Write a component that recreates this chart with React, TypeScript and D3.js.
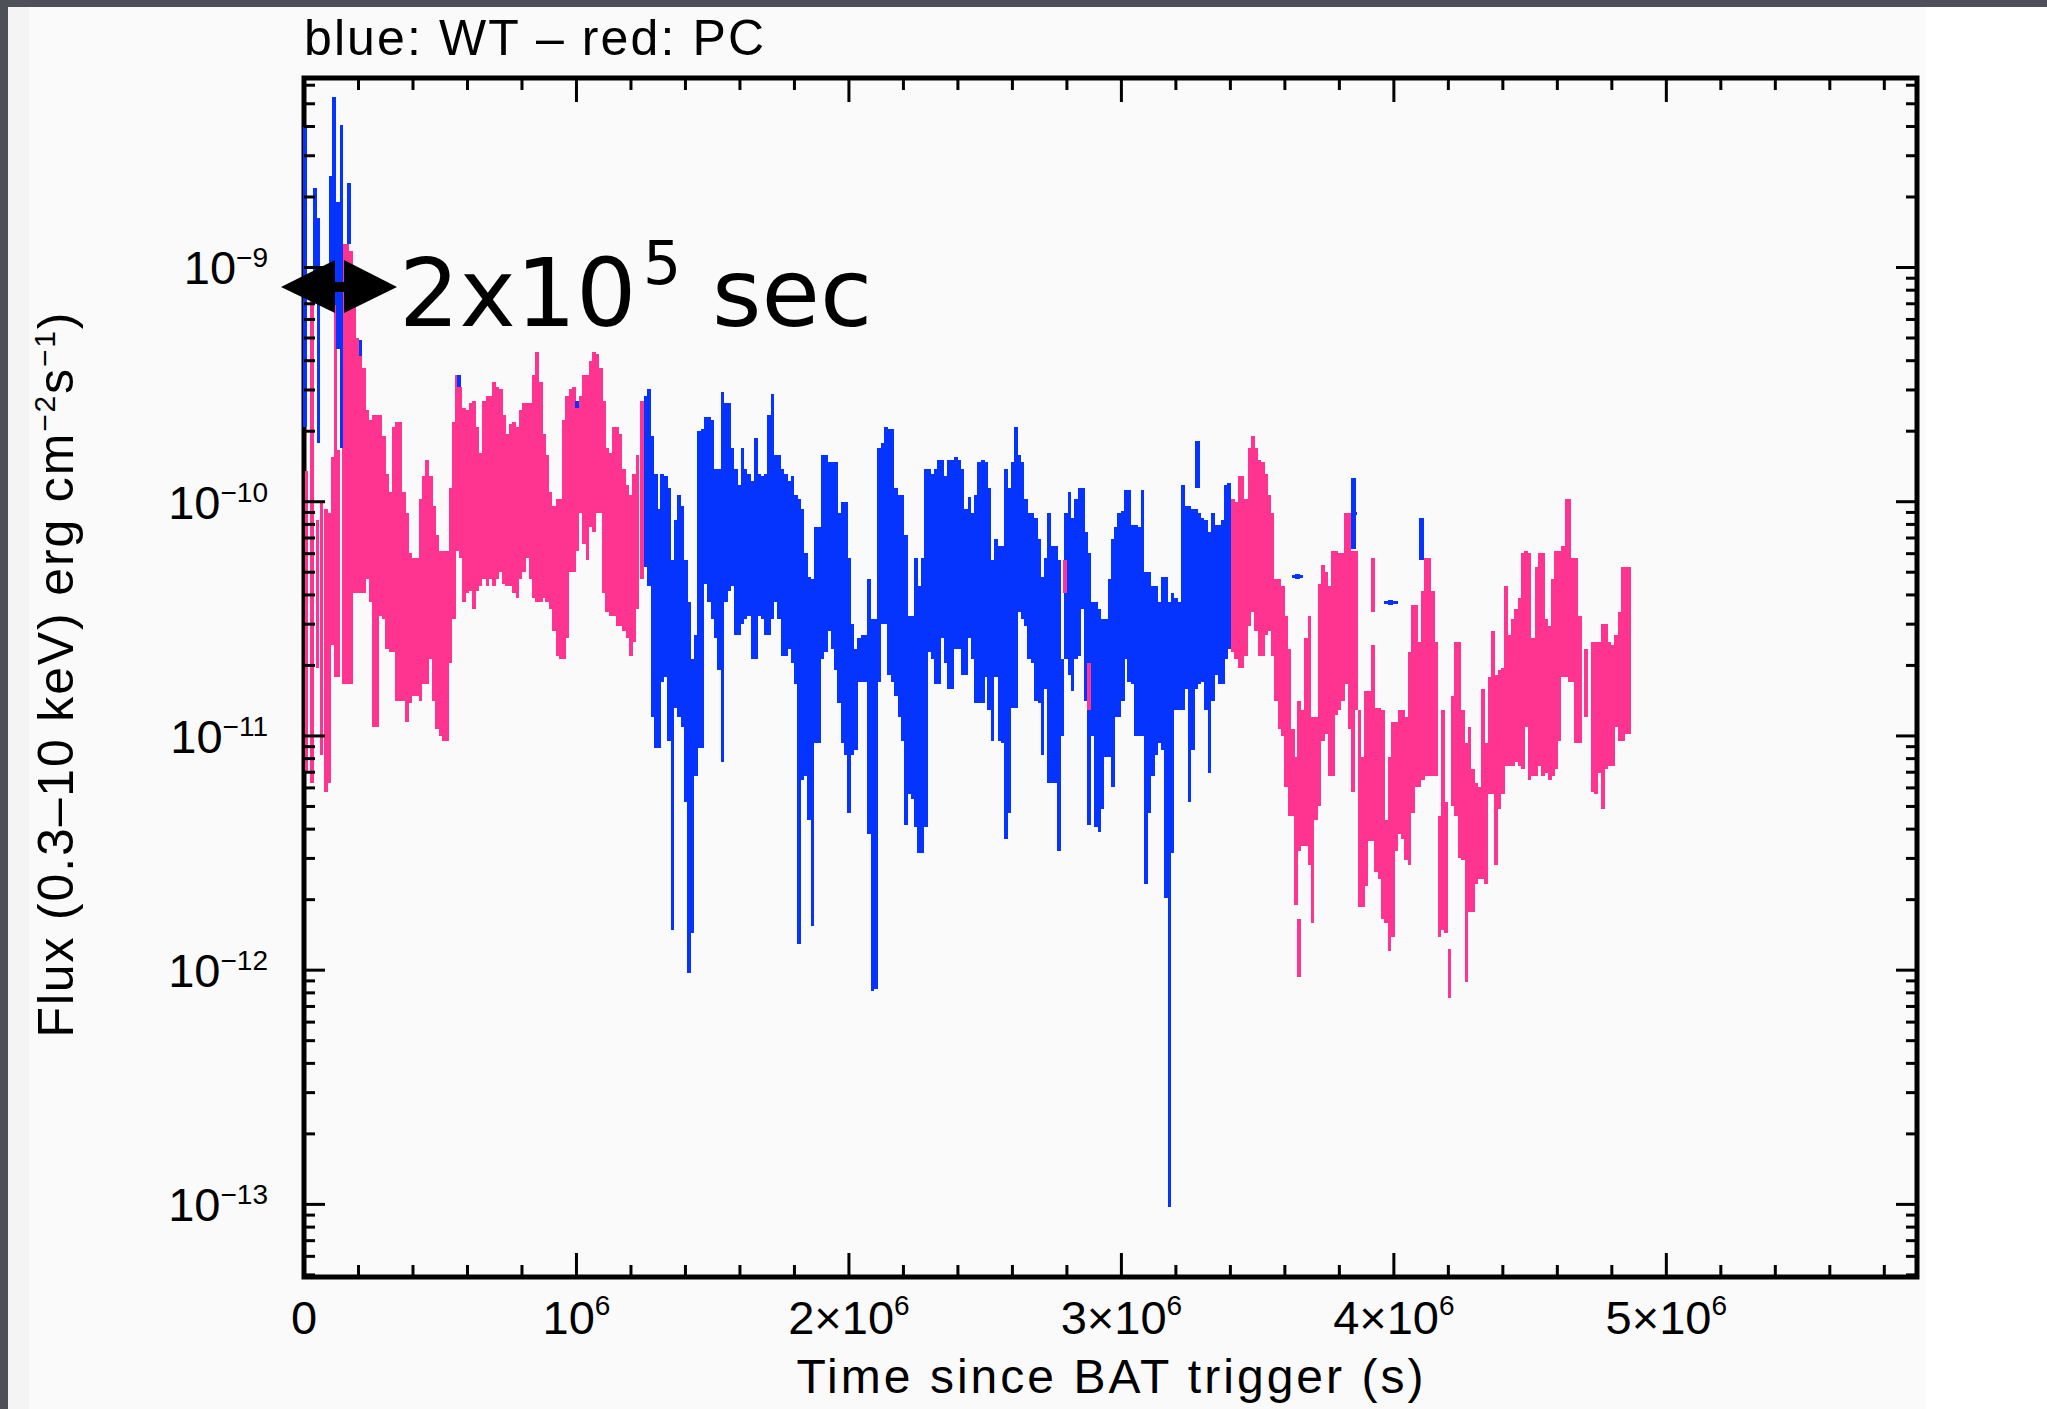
import * as d3 from "d3";

const W = 2047;
const H = 1409;

// time in ks since trigger, flux as log10(erg cm^-2 s^-1): [t, logLo, logHi]
const wtEarly: [number, number, number][] = [
  [4, -9.68, -8.4], [40, -9.14, -8.66], [53, -9.75, -8.79], [97, -9.16, -8.61],
  [110, -9.16, -8.27], [125, -9.35, -8.72], [138, -9.77, -8.39], [165, -8.9, -8.64],
  [207, -9.38, -9.31], [570, -9.51, -9.46], [1003, -9.6, -9.57],
];

const pcEarly: [number, number, number][] = [
  [9, -11.15, -9.87], [30, -11.2, -9.11], [49, -10.71, -10.08], [64, -11.08, -10.0],
  [80, -11.24, -10.03], [92, -11.2, -10.05], [105, -10.61, -9.81], [116, -10.75, -9.08],
  [126, -10.75, -9.78], [148, -10.78, -8.9], [160, -10.78, -8.9], [172, -10.78, -8.93],
  [184, -10.39, -9.15], [195, -10.39, -9.3], [207, -10.39, -9.38], [220, -10.39, -9.43],
  [232, -10.33, -9.61], [244, -10.43, -9.65], [256, -10.96, -9.63], [269, -10.96, -9.63],
  [281, -10.49, -9.63], [293, -10.5, -9.72], [305, -10.63, -9.88], [318, -10.64, -9.96],
  [330, -10.64, -9.68], [342, -10.85, -9.66], [354, -10.85, -9.66], [367, -10.85, -9.96],
  [379, -10.94, -10.05], [391, -10.86, -10.22], [403, -10.83, -10.24], [416, -10.83, -10.24],
  [428, -10.85, -9.99], [440, -10.78, -9.89], [452, -10.78, -9.82], [465, -10.67, -9.89],
  [477, -10.85, -10.02], [489, -10.97, -10.14], [501, -11.0, -10.21], [514, -11.02, -10.21],
  [526, -11.02, -10.21], [538, -10.69, -9.94], [550, -10.5, -9.66], [562, -10.21, -9.46],
  [575, -10.24, -9.51], [587, -10.43, -9.6], [599, -10.39, -9.61], [611, -10.38, -9.58],
  [624, -10.46, -9.57], [636, -10.38, -9.68], [648, -10.36, -9.79], [660, -10.33, -9.57],
  [673, -10.36, -9.55], [685, -10.33, -9.55], [697, -10.36, -9.49], [709, -10.33, -9.51],
  [722, -10.3, -9.52], [734, -10.35, -9.63], [746, -10.36, -9.71], [758, -10.36, -9.67],
  [771, -10.39, -9.66], [783, -10.41, -9.68], [795, -10.33, -9.61], [807, -10.3, -9.58],
  [820, -10.24, -9.58], [832, -10.33, -9.58], [844, -10.41, -9.46], [856, -10.43, -9.36],
  [869, -10.43, -9.49], [881, -10.41, -9.71], [893, -10.43, -9.8], [905, -10.46, -9.96],
  [918, -10.55, -10.02], [930, -10.66, -9.99], [942, -10.67, -9.99], [954, -10.67, -9.65],
  [966, -10.58, -9.55], [979, -10.3, -9.52], [991, -10.3, -9.51], [1003, -10.21, -9.6],
  [1015, -10.05, -9.55], [1028, -10.18, -9.46], [1040, -10.25, -9.46], [1052, -10.11, -9.4],
  [1064, -10.13, -9.36], [1077, -10.05, -9.37], [1089, -10.05, -9.43], [1101, -10.39, -9.57],
  [1113, -10.47, -9.77], [1126, -10.49, -9.79], [1138, -10.49, -9.68], [1150, -10.53, -9.68],
  [1162, -10.53, -9.71], [1175, -10.55, -9.86], [1187, -10.58, -9.93], [1199, -10.66, -9.97],
  [1211, -10.6, -9.88], [1224, -10.46, -9.8], [1241, -10.33, -9.57],
];

const wtMid: [number, number, number][] = [
  [1254, -10.28, -9.55], [1266, -10.36, -9.52], [1279, -10.92, -9.72], [1291, -11.05, -9.88],
  [1303, -11.05, -10.03], [1315, -10.77, -9.88], [1328, -10.75, -9.89], [1340, -11.02, -9.94],
  [1352, -11.83, -10.25], [1364, -10.88, -10.08], [1377, -10.92, -9.97], [1389, -10.96, -10.02],
  [1401, -11.28, -10.25], [1413, -12.01, -10.43], [1426, -11.84, -10.67], [1438, -11.17, -10.57],
  [1450, -11.05, -9.7], [1462, -11.05, -9.69], [1475, -10.35, -9.64], [1487, -10.43, -9.64],
  [1499, -10.5, -9.65], [1511, -10.58, -9.86], [1523, -10.72, -9.86], [1536, -11.11, -9.53],
  [1548, -10.43, -9.58], [1560, -10.38, -9.58], [1572, -10.36, -9.77], [1585, -10.57, -9.86],
  [1597, -10.57, -9.93], [1609, -10.52, -9.77], [1621, -10.5, -9.86], [1634, -10.49, -9.88],
  [1646, -10.67, -9.91], [1658, -10.67, -9.73], [1670, -10.49, -9.88], [1683, -10.5, -9.89],
  [1695, -10.57, -9.88], [1707, -10.57, -9.63], [1719, -10.5, -9.54], [1732, -10.43, -9.8],
  [1744, -10.5, -9.8], [1756, -10.66, -9.86], [1768, -10.66, -9.88], [1781, -10.63, -9.91],
  [1793, -10.69, -9.89], [1805, -10.78, -9.97], [1817, -11.89, -9.99], [1830, -11.19, -10.03],
  [1842, -11.17, -10.22], [1854, -11.36, -10.32], [1866, -11.81, -10.33], [1878, -11.03, -10.11],
  [1891, -11.03, -10.11], [1903, -10.67, -9.8], [1915, -10.64, -9.8], [1927, -10.55, -9.83],
  [1940, -10.63, -9.83], [1952, -10.72, -9.83], [1964, -10.86, -10.05], [1976, -11.03, -10.0],
  [1989, -11.08, -10.0], [2001, -11.33, -10.24], [2013, -11.08, -10.52], [2025, -11.06, -10.63],
  [2038, -10.77, -10.58], [2050, -10.77, -10.57], [2062, -10.77, -10.57], [2074, -11.42, -10.33],
  [2087, -12.09, -10.5], [2099, -12.08, -10.5], [2111, -10.77, -9.77], [2123, -10.52, -9.75],
  [2136, -10.52, -9.68], [2148, -10.74, -9.69], [2160, -10.77, -9.69], [2172, -10.83, -9.94],
  [2185, -10.92, -9.97], [2197, -11.02, -9.97], [2209, -11.38, -10.14], [2221, -11.25, -10.49],
  [2233, -11.27, -10.49], [2246, -11.39, -10.24], [2258, -11.5, -10.36], [2270, -11.5, -10.24],
  [2282, -11.39, -9.86], [2295, -10.64, -9.86], [2307, -10.67, -9.88], [2319, -10.78, -9.86],
  [2331, -10.78, -9.82], [2344, -10.58, -9.82], [2356, -10.69, -9.89], [2368, -10.8, -9.82],
  [2380, -10.8, -9.82], [2393, -10.63, -9.81], [2405, -10.63, -9.82], [2417, -10.74, -9.86],
  [2429, -10.74, -10.03], [2442, -10.58, -9.98], [2454, -10.67, -10.05], [2466, -10.86, -9.97],
  [2478, -10.86, -9.83], [2491, -10.86, -9.82], [2503, -10.75, -9.83], [2515, -10.89, -9.94],
  [2527, -11.02, -10.25], [2540, -10.75, -10.16], [2552, -11.02, -10.19], [2564, -11.03, -10.19],
  [2576, -11.44, -9.86], [2588, -11.33, -9.94], [2601, -10.88, -9.83], [2613, -10.88, -9.68],
  [2625, -10.47, -9.8], [2637, -10.5, -9.83], [2650, -10.53, -9.99], [2662, -10.67, -10.05],
  [2674, -10.69, -10.05], [2686, -10.85, -10.07], [2699, -10.86, -10.16], [2711, -11.08, -10.32],
  [2723, -10.8, -10.24], [2735, -11.2, -10.05], [2748, -11.2, -10.19], [2760, -11.2, -10.19],
  [2772, -11.49, -10.25], [2784, -11.0, -10.67], [2797, -10.67, -10.05], [2809, -10.74, -9.96],
  [2821, -10.81, -10.07], [2833, -10.67, -9.99], [2846, -10.66, -9.94], [2858, -10.46, -9.94],
  [2870, -10.85, -10.13], [2882, -11.38, -10.22], [2894, -11.0, -10.43], [2907, -11.39, -10.43],
  [2919, -11.41, -10.46], [2931, -11.31, -10.5], [2943, -11.09, -10.5], [2956, -11.09, -10.33],
  [2968, -11.22, -10.16], [2980, -10.92, -10.11], [2992, -10.92, -10.05], [3005, -10.85, -10.04],
  [3017, -10.67, -9.95], [3029, -10.77, -9.95], [3041, -10.78, -10.1], [3054, -11.0, -10.1],
  [3066, -11.0, -10.11], [3078, -11.0, -9.95], [3090, -11.63, -10.3], [3103, -11.33, -10.3],
  [3115, -11.17, -10.36], [3127, -11.08, -10.36], [3139, -11.03, -10.43], [3152, -11.06, -10.32],
  [3164, -11.69, -10.32], [3176, -13.01, -10.43], [3188, -11.5, -10.39], [3201, -10.89, -10.41],
  [3213, -10.89, -10.43], [3225, -10.89, -9.93], [3237, -10.8, -10.02], [3250, -11.28, -10.02],
  [3262, -11.06, -10.03], [3274, -10.8, -10.03], [3286, -10.78, -10.05], [3298, -10.77, -10.07],
  [3311, -10.89, -10.08], [3323, -11.16, -10.13], [3335, -10.85, -10.05], [3347, -10.74, -10.1],
  [3360, -10.78, -10.1], [3372, -10.78, -10.08], [3384, -10.67, -9.93], [3396, -10.63, -9.92],
];

const pcLate: [number, number, number][] = [
  [2794, -10.39, -10.25], [2882, -10.89, -10.69],
  [3409, -10.64, -9.99], [3421, -10.67, -10.0], [3433, -10.71, -9.89], [3445, -10.71, -9.89],
  [3458, -10.66, -9.99], [3470, -10.53, -9.77], [3482, -10.47, -9.72], [3494, -10.55, -9.77],
  [3507, -10.66, -9.82], [3519, -10.66, -9.83], [3531, -10.57, -9.88], [3543, -10.55, -9.97],
  [3555, -10.66, -10.05], [3568, -10.85, -10.33], [3580, -10.97, -10.33], [3592, -11.0, -10.36],
  [3604, -11.22, -10.49], [3617, -11.34, -10.63], [3629, -11.34, -10.97], [3641, -11.72, -11.09],
  [3653, -11.49, -10.85], [3653, -12.03, -11.78], [3666, -11.47, -10.89], [3678, -11.47, -10.58],
  [3690, -11.55, -10.49], [3702, -11.8, -10.92], [3715, -11.36, -10.92], [3727, -11.3, -10.35],
  [3739, -11.02, -10.27], [3751, -10.99, -10.3], [3764, -11.17, -10.36], [3776, -11.17, -10.21],
  [3788, -10.91, -10.21], [3800, -10.89, -10.22], [3813, -10.85, -10.22], [3825, -10.78, -10.05],
  [3837, -10.97, -10.05], [3849, -11.24, -10.21], [3862, -10.89, -10.21], [3874, -11.73, -10.89],
  [3886, -11.73, -11.09], [3898, -11.64, -10.81], [3911, -11.45, -10.81], [3923, -11.45, -10.61],
  [3923, -10.47, -10.24], [3935, -11.58, -10.88], [3947, -11.61, -10.88], [3960, -11.78, -10.89],
  [3972, -11.8, -11.36], [3984, -11.92, -11.09], [3996, -11.86, -10.94], [4008, -11.49, -10.94],
  [4021, -11.42, -10.89], [4033, -11.44, -10.89], [4045, -11.53, -10.92], [4057, -11.55, -10.64],
  [4070, -11.33, -10.44], [4082, -11.22, -10.44], [4094, -11.22, -10.6], [4106, -11.19, -10.38],
  [4119, -11.17, -10.24], [4131, -11.17, -10.24], [4143, -11.17, -10.38], [4155, -11.17, -10.6],
  [4168, -11.86, -11.34], [4180, -11.83, -10.89], [4192, -11.84, -11.28], [4204, -12.12, -11.91],
  [4217, -11.3, -10.83], [4229, -11.34, -10.6], [4241, -11.52, -10.6], [4253, -11.53, -10.89],
  [4266, -12.05, -11.03], [4278, -11.75, -10.96], [4290, -11.75, -11.14], [4302, -11.63, -11.2],
  [4314, -11.61, -11.22], [4327, -11.61, -10.8], [4339, -11.63, -11.03], [4351, -11.25, -10.75],
  [4363, -11.25, -10.55], [4376, -11.55, -10.74], [4388, -11.31, -10.72], [4400, -11.25, -10.71],
  [4412, -11.13, -10.36], [4425, -11.13, -10.57], [4437, -11.13, -10.5], [4449, -11.11, -10.46],
  [4461, -11.13, -10.41], [4474, -11.14, -10.22], [4486, -10.96, -10.21], [4498, -11.19, -10.22],
  [4510, -11.17, -10.58], [4523, -11.17, -10.28], [4535, -11.13, -10.22], [4547, -11.17, -10.22],
  [4559, -11.16, -10.5], [4572, -11.19, -10.53], [4584, -11.17, -10.33], [4596, -11.14, -10.21],
  [4608, -11.02, -10.21], [4621, -10.75, -10.19], [4633, -10.75, -9.99], [4645, -10.77, -9.99],
  [4657, -10.77, -10.24], [4669, -11.03, -10.24], [4682, -11.03, -10.49], [4706, -10.92, -10.63],
  [4731, -11.24, -10.6], [4743, -11.25, -10.6], [4755, -11.16, -10.6], [4767, -11.31, -10.52],
  [4780, -11.14, -10.52], [4792, -11.13, -10.6], [4804, -11.13, -10.61], [4816, -10.96, -10.57],
  [4829, -11.02, -10.47], [4841, -11.02, -10.28], [4853, -10.99, -10.28], [4862, -10.99, -10.28],
];

// isolated WT points with a time half-width: [t, dtHalf, logLo, logHi]
const wtLate: [number, number, number, number][] = [
  [3278, 3, -9.94, -9.74],
  [3647, 21, -10.33, -10.31],
  [3852, 11, -10.2, -9.9],
  [3989, 26, -10.44, -10.42],
  [4101, 9, -10.25, -10.07],
];

const xLabelMultipliers = [0, 1, 2, 3, 4, 5]; // ×10^6 s
const yDecades = [-9, -10, -11, -12, -13];

const BLUE = "#0533ff";
const PINK = "#ff3390";
const FONT = "'Liberation Sans', Arial, Helvetica, sans-serif";

export default function App() {
  const x = d3.scaleLinear().domain([0, 5.92e6]).range([304, 1917]);
  const y = d3
    .scaleLog()
    .domain([Math.pow(10, -13.31), Math.pow(10, -8.191)])
    .range([1277, 78]);

  const [x0, x1] = x.range();
  const [y0, y1] = y.range(); // bottom, top
  const halfBin = 6.7; // ks, slight overlap so neighbouring bins merge

  const bars = (data: [number, number, number][], color: string, key: string) =>
    data.map(([t, lo, hi], i) => {
      const xa = x((t - halfBin) * 1e3);
      const xb = x((t + halfBin) * 1e3);
      const ya = y(Math.pow(10, hi));
      const yb = y(Math.pow(10, lo));
      return (
        <rect
          key={`${key}${i}`}
          x={xa}
          y={ya}
          width={xb - xa}
          height={Math.max(yb - ya, 2)}
          fill={color}
        />
      );
    });

  // ticks
  const xMinor = d3.range(0, 5.92e6, 2e5);
  const yTicks: { v: number; major: boolean }[] = [];
  for (let d = -14; d <= -9; d++) {
    for (let k = 1; k <= 9; k++) {
      const v = k * Math.pow(10, d);
      if (v >= y.domain()[0] && v <= y.domain()[1]) yTicks.push({ v, major: k === 1 });
    }
  }

  return (
    <div>
      <style>{`body{margin:0;overflow:hidden}`}</style>
      <svg width={W} height={H} style={{ display: "block" }} fontFamily={FONT}>
        <rect width={W} height={H} fill="#4d5059" />
        <rect x={8} y={7} width={1917} height={H - 7} fill="#fafafa" />
        <rect x={1925} y={7} width={W - 1925} height={H - 7} fill="#ffffff" />
        <rect x={8} y={7} width={21} height={H - 7} fill="#f4f4f4" />

        {/* frame */}
        <rect x={x0} y={y1} width={x1 - x0} height={y0 - y1} fill="none" stroke="#000" strokeWidth={5} />

        {/* data */}
        <g shapeRendering="crispEdges">
          {bars(wtMid, BLUE, "wm")}
          {bars(pcEarly, PINK, "pe")}
          {bars(pcLate, PINK, "pl")}
          {bars(wtEarly, BLUE, "we")}
          {wtLate.map(([t, dt, lo, hi], i) => {
            const xc = x(t * 1e3);
            const ya = y(Math.pow(10, hi));
            const yb = y(Math.pow(10, lo));
            const ym = y(Math.pow(10, (lo + hi) / 2));
            return (
              <g key={`wl${i}`}>
                <rect x={xc - 2.5} y={ya} width={5} height={Math.max(yb - ya, 3)} fill={BLUE} />
                <rect x={x((t - dt) * 1e3)} y={ym - 1.5} width={x((t + dt) * 1e3) - x((t - dt) * 1e3)} height={3} fill={BLUE} />
              </g>
            );
          })}
        </g>

        {/* ticks */}
        <g stroke="#000" strokeWidth={3}>
          {xMinor.map((v, i) => {
            const len = i % 5 === 0 ? 24 : 12;
            const px = x(v);
            return (
              <g key={`xt${i}`}>
                <line x1={px} x2={px} y1={y0} y2={y0 - len} />
                <line x1={px} x2={px} y1={y1} y2={y1 + len} />
              </g>
            );
          })}
          {yTicks.map((tk, i) => {
            const len = tk.major ? 21 : 11;
            const py = y(tk.v);
            return (
              <g key={`yt${i}`}>
                <line x1={x0} x2={x0 + len} y1={py} y2={py} />
                <line x1={x1} x2={x1 - len} y1={py} y2={py} />
              </g>
            );
          })}
        </g>

        {/* tick labels */}
        <g fontSize={47} fill="#000">
          {xLabelMultipliers.map((m) => (
            <text key={`xl${m}`} x={x(m * 1e6)} y={1334} textAnchor="middle">
              {m === 0 ? "0" : m === 1 ? "10" : `${m}×10`}
              {m > 0 && (
                <tspan dy={-19} fontSize={28}>
                  6
                </tspan>
              )}
            </text>
          ))}
          {yDecades.map((d) => (
            <text key={`yl${d}`} x={268} y={y(Math.pow(10, d)) + 17} textAnchor="end">
              10
              <tspan dy={-17} fontSize={28}>
                {`−${-d}`}
              </tspan>
            </text>
          ))}
        </g>

        {/* titles */}
        <text x={304} y={55} fontSize={50} textLength={460} lengthAdjust="spacing">
          blue: WT – red: PC
        </text>
        <text x={1110} y={1393} fontSize={48} textAnchor="middle" textLength={627} lengthAdjust="spacing">
          Time since BAT trigger (s)
        </text>
        <text transform="translate(73,675) rotate(-90)" fontSize={50} textAnchor="middle" textLength={725} lengthAdjust="spacing">
          Flux (0.3–10 keV) erg cm
          <tspan dy={-18} fontSize={30}>−2</tspan>
          <tspan dy={18}>s</tspan>
          <tspan dy={-18} fontSize={30}>−1</tspan>
          <tspan dy={18}>)</tspan>
        </text>

        {/* annotation */}
        <path
          d="M281,287 L335,260 L335,282 L344,282 L344,260 L397,287 L344,313 L344,292 L335,292 L335,313 Z"
          fill="#000"
        />
        <g fontFamily="'DejaVu Sans', sans-serif" fill="#000">
          <text x={399} y={326} fontSize={95}>2x10</text>
          <text x={643} y={284} fontSize={60}>5</text>
          <text x={712} y={326} fontSize={95}>sec</text>
        </g>
      </svg>
    </div>
  );
}
